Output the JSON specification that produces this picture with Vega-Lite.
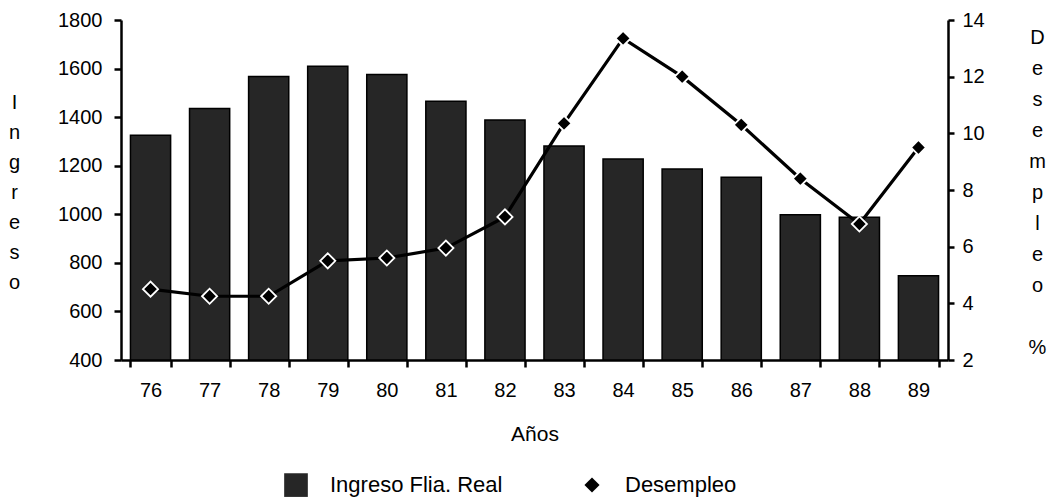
{
  "$schema": "https://vega.github.io/schema/vega-lite/v6.json",
  "width": 827,
  "height": 340,
  "autosize": "none",
  "padding": {"left": 121, "top": 20, "right": 107, "bottom": 139},
  "background": "white",
  "config": {
    "font": "Liberation Sans",
    "view": {"stroke": null},
    "axis": {
      "grid": false,
      "domainColor": "black",
      "domainWidth": 2.5,
      "tickColor": "black",
      "tickWidth": 2.5,
      "labelColor": "black",
      "titleColor": "black",
      "labelFont": "Liberation Sans",
      "titleFont": "Liberation Sans",
      "labelFontSize": 20,
      "titleFontSize": 20,
      "titleFontWeight": "normal"
    },
    "legend": {"labelFont": "Liberation Sans", "labelColor": "black"}
  },
  "data": {
    "values": [
      {"anio": "76", "ingreso": 1325, "desempleo": 4.5, "serie": "Desempleo"},
      {"anio": "77", "ingreso": 1436, "desempleo": 4.25, "serie": "Desempleo"},
      {"anio": "78", "ingreso": 1567, "desempleo": 4.25, "serie": "Desempleo"},
      {"anio": "79", "ingreso": 1610, "desempleo": 5.5, "serie": "Desempleo"},
      {"anio": "80", "ingreso": 1576, "desempleo": 5.6, "serie": "Desempleo"},
      {"anio": "81", "ingreso": 1465, "desempleo": 5.95, "serie": "Desempleo"},
      {"anio": "82", "ingreso": 1388, "desempleo": 7.05, "serie": "Desempleo"},
      {"anio": "83", "ingreso": 1281, "desempleo": 10.35, "serie": "Desempleo"},
      {"anio": "84", "ingreso": 1228, "desempleo": 13.35, "serie": "Desempleo"},
      {"anio": "85", "ingreso": 1186, "desempleo": 12.0, "serie": "Desempleo"},
      {"anio": "86", "ingreso": 1152, "desempleo": 10.3, "serie": "Desempleo"},
      {"anio": "87", "ingreso": 998, "desempleo": 8.4, "serie": "Desempleo"},
      {"anio": "88", "ingreso": 988, "desempleo": 6.8, "serie": "Desempleo"},
      {"anio": "89", "ingreso": 747, "desempleo": 9.5, "serie": "Desempleo"}
    ]
  },
  "encoding": {
    "x": {
      "field": "anio",
      "type": "ordinal",
      "scale": {"paddingInner": 0.32, "paddingOuter": 0.16},
      "axis": {
        "title": "Años",
        "labelAngle": 0,
        "tickBand": "extent",
        "tickSize": 7,
        "labelPadding": 13,
        "titleFontSize": 21,
        "titleY": 80,
        "titleBaseline": "alphabetic"
      }
    }
  },
  "layer": [
    {
      "mark": {"type": "bar", "fill": "#262626", "stroke": "black", "strokeWidth": 1.5},
      "encoding": {
        "y": {
          "field": "ingreso",
          "type": "quantitative",
          "scale": {"domain": [400, 1800], "zero": false, "nice": false},
          "axis": {
            "values": [400, 600, 800, 1000, 1200, 1400, 1600, 1800],
            "format": "d",
            "title": ["I", "n", "g", "r", "e", "s", "o"],
            "titleAngle": 0,
            "titleAlign": "center",
            "titleBaseline": "alphabetic",
            "titleLineHeight": 30,
            "titleX": -107,
            "titleY": 88,
            "tickSize": 7,
            "labelPadding": 12
          }
        },
        "y2": {"datum": 400}
      }
    },
    {
      "encoding": {
        "y": {
          "field": "desempleo",
          "type": "quantitative",
          "scale": {"domain": [2, 14], "zero": false, "nice": false},
          "axis": {
            "orient": "right",
            "values": [2, 4, 6, 8, 10, 12, 14],
            "title": ["D", "e", "s", "e", "m", "p", "l", "e", "o", "\u200b", "%"],
            "titleAngle": 0,
            "titleAlign": "center",
            "titleBaseline": "alphabetic",
            "titleLineHeight": 31,
            "titleX": 89,
            "titleY": 23,
            "tickSize": 6,
            "labelPadding": 8
          }
        }
      },
      "layer": [
        {"mark": {"type": "line", "color": "black", "strokeWidth": 3.2}},
        {
          "mark": {"type": "point", "filled": true, "opacity": 1, "stroke": "white", "strokeWidth": 1.8},
          "encoding": {
            "shape": {
              "field": "serie",
              "type": "nominal",
              "scale": {"domain": ["Ingreso Flia. Real", "Desempleo"], "range": ["square", "diamond"]},
              "legend": {
                "orient": "none",
                "direction": "horizontal",
                "title": null,
                "legendX": 163,
                "legendY": 453,
                "labelFontSize": 22,
                "labelLimit": 400,
                "labelOffset": 22,
                "columnPadding": 78,
                "symbolStrokeWidth": 0
              }
            },
            "color": {
              "field": "serie",
              "type": "nominal",
              "scale": {"domain": ["Ingreso Flia. Real", "Desempleo"], "range": ["#262626", "#000000"]}
            },
            "size": {
              "field": "serie",
              "type": "nominal",
              "scale": {"domain": ["Ingreso Flia. Real", "Desempleo"], "range": [560, 230]}
            }
          }
        }
      ]
    }
  ],
  "resolve": {"scale": {"y": "independent"}}
}
